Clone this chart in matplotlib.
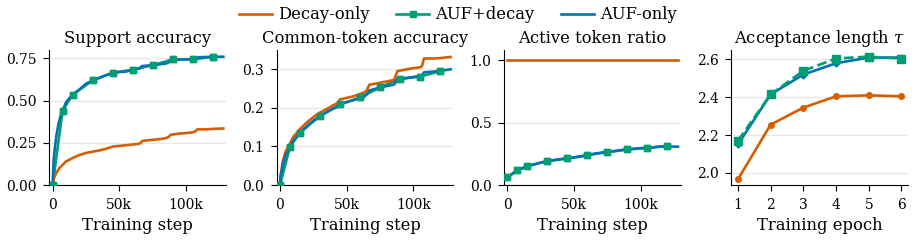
import matplotlib
matplotlib.use("Agg")
import matplotlib.pyplot as plt
from matplotlib.ticker import FuncFormatter

# colours (seaborn colorblind)
C_DECAY = '#D55E00'
C_BOTH = '#029E73'
C_AUF = '#0173B2'

# ---- data (training steps in thousands) ----
ckpt_steps = [0, 7.5, 15, 30, 45, 60, 75, 90, 105, 120]

# support accuracy
sup_steps_auf = [0, 0.5, 1, 2, 3, 4.5, 6, 7.5, 10, 12.5, 15, 20, 25, 30, 35, 40, 45, 50,
                 55, 60, 65, 67, 75, 85, 88, 89, 100, 106, 108, 109, 120, 128]
sup_auf = [0, 0.10, 0.17, 0.24, 0.30, 0.365, 0.41, 0.44, 0.49, 0.515, 0.535, 0.565, 0.60,
           0.62, 0.635, 0.65, 0.665, 0.67, 0.672, 0.683, 0.69, 0.705, 0.71, 0.72, 0.73,
           0.742, 0.745, 0.745, 0.75, 0.757, 0.76, 0.76]
sup_both = [0, 0.44, 0.536, 0.62, 0.665, 0.683, 0.71, 0.744, 0.744, 0.76]
sup_steps_decay = [0, 1, 2, 3, 5, 7.5, 10, 15, 20, 25, 30, 35, 40, 45, 50, 55, 60, 65, 66,
                   67.5, 75, 80, 85, 87, 88.5, 95, 100, 105, 107, 108.5, 115, 120, 128]
sup_decay = [0, 0.04, 0.06, 0.075, 0.10, 0.12, 0.14, 0.16, 0.178, 0.19, 0.198, 0.205, 0.215,
             0.228, 0.232, 0.236, 0.24, 0.245, 0.25, 0.262, 0.268, 0.272, 0.278, 0.285, 0.298,
             0.305, 0.308, 0.312, 0.318, 0.33, 0.33, 0.333, 0.335]

# common-token accuracy
com_steps = [0, 0.3, 2, 4, 7.5, 10, 15, 20, 25, 30, 35, 40, 43, 45, 50, 55, 60, 63, 65, 67,
             75, 85, 86, 88, 95, 100, 105, 106.5, 108, 115, 120, 128]
com_auf = [0, 0.02, 0.05, 0.075, 0.098, 0.115, 0.136, 0.152, 0.167, 0.178, 0.189, 0.198,
           0.202, 0.21, 0.215, 0.22, 0.226, 0.228, 0.235, 0.245, 0.253, 0.26, 0.262, 0.275,
           0.277, 0.28, 0.282, 0.284, 0.292, 0.294, 0.296, 0.30]
com_decay = [0, 0.02, 0.06, 0.085, 0.108, 0.125, 0.145, 0.162, 0.176, 0.188, 0.197, 0.207,
             0.212, 0.222, 0.226, 0.23, 0.236, 0.24, 0.245, 0.26, 0.265, 0.272, 0.276, 0.295,
             0.30, 0.303, 0.305, 0.308, 0.328, 0.328, 0.329, 0.332]
com_both = [0, 0.099, 0.136, 0.179, 0.209, 0.227, 0.253, 0.276, 0.281, 0.295]

# active token ratio
act_steps = [0, 2.5, 5, 7.5, 10, 15, 20, 25, 30, 35, 40, 45, 50, 55, 60, 65, 70, 75, 80, 85,
             90, 95, 100, 105, 110, 115, 120, 128]
act_auf = [0.06, 0.08, 0.10, 0.118, 0.13, 0.15, 0.165, 0.18, 0.19, 0.20, 0.207, 0.214, 0.22,
           0.228, 0.238, 0.25, 0.258, 0.265, 0.27, 0.278, 0.285, 0.29, 0.295, 0.298, 0.303,
           0.308, 0.31, 0.307]
act_decay_steps = [0, 128]
act_decay = [1.0, 1.0]
act_both = [0.062, 0.12, 0.152, 0.192, 0.214, 0.24, 0.265, 0.286, 0.297, 0.313]

# acceptance length
epochs = [1, 2, 3, 4, 5, 6]
tau_decay = [1.965, 2.255, 2.345, 2.405, 2.41, 2.405]
tau_auf = [2.15, 2.415, 2.52, 2.58, 2.61, 2.61]
tau_both = [2.17, 2.415, 2.54, 2.605, 2.615, 2.605]


def k(vals):
    return [v * 1000 for v in vals]


plt.rcParams['font.family'] = ['DejaVu Serif']
plt.rcParams['mathtext.fontset'] = 'dejavuserif'
plt.rcParams['font.size'] = 11.8
plt.rcParams['axes.titlesize'] = 11.8
plt.rcParams['axes.labelsize'] = 11.8
plt.rcParams['xtick.labelsize'] = 10
plt.rcParams['ytick.labelsize'] = 10

fig, axes = plt.subplots(1, 4, figsize=(9.16, 2.41), dpi=100)
fig.subplots_adjust(left=0.0538, right=0.9913, bottom=0.232, top=0.7925, wspace=0.287)

lw = 1.9
ms = 5


def curves(ax, steps_a, auf, steps_d, decay, both):
    ax.plot(k(steps_d), decay, color=C_DECAY, lw=lw, label='Decay-only', zorder=3)
    ax.plot(k(ckpt_steps), both, color=C_BOTH, lw=lw, marker='s', ms=ms,
            label='AUF+decay', zorder=2)
    ax.plot(k(steps_a), auf, color=C_AUF, lw=lw, label='AUF-only', zorder=3)
    ax.plot(k(ckpt_steps), both, color=C_BOTH, lw=0, marker='s', ms=ms, zorder=4)
    ax.set_xlim(-2500, 130000)
    ax.set_xticks([0, 50000, 100000])
    ax.xaxis.set_major_formatter(FuncFormatter(lambda v, p: '0' if v == 0 else f'{v/1000:.0f}k'))
    ax.set_xlabel('Training step', labelpad=4)


ax1, ax2, ax3, ax4 = axes
curves(ax1, sup_steps_auf, sup_auf, sup_steps_decay, sup_decay, sup_both)
ax1.set_ylim(0, 0.8)
ax1.set_yticks([0, 0.25, 0.5, 0.75])
ax1.yaxis.set_major_formatter(FuncFormatter(lambda v, p: f'{v:.2f}'))
ax1.set_title('Support accuracy', pad=5)

curves(ax2, com_steps, com_auf, com_steps, com_decay, com_both)
ax2.set_ylim(0, 0.35)
ax2.set_yticks([0, 0.1, 0.2, 0.3])
ax2.set_title('Common-token accuracy', pad=5)

curves(ax3, act_steps, act_auf, act_decay_steps, act_decay, act_both)
ax3.set_ylim(0, 1.08)
ax3.set_yticks([0, 0.5, 1.0])
ax3.set_title('Active token ratio', pad=5)

ax4.plot(epochs, tau_decay, color=C_DECAY, lw=lw, marker='o', ms=4, zorder=3)
ax4.plot(epochs, tau_auf, color=C_AUF, lw=lw, marker='D', ms=3.5, zorder=3)
ax4.plot(epochs, tau_both, color=C_BOTH, lw=lw, ls='--', marker='s', ms=ms + 0.5, zorder=4)
ax4.set_xlim(0.8, 6.2)
ax4.set_ylim(1.935, 2.65)
ax4.set_xticks(epochs)
ax4.set_yticks([2.0, 2.2, 2.4, 2.6])
ax4.set_xlabel('Training epoch', labelpad=4)
ax4.set_title(r'Acceptance length $\tau$', pad=5)

for ax in axes:
    ax.spines['top'].set_visible(False)
    ax.spines['right'].set_visible(False)
    ax.grid(axis='y', color='#e8e8e8', lw=1)
    ax.set_axisbelow(True)
    ax.tick_params(length=4.5, width=0.8, pad=4.5)

handles, labels = ax1.get_legend_handles_labels()
fig.legend(handles, labels, loc='upper center', ncol=3, frameon=False,
           bbox_to_anchor=(0.5, 1.035), handlelength=2, handletextpad=0.4,
           columnspacing=1.6, markerscale=0.8)

fig.savefig('out.png', dpi=100)
